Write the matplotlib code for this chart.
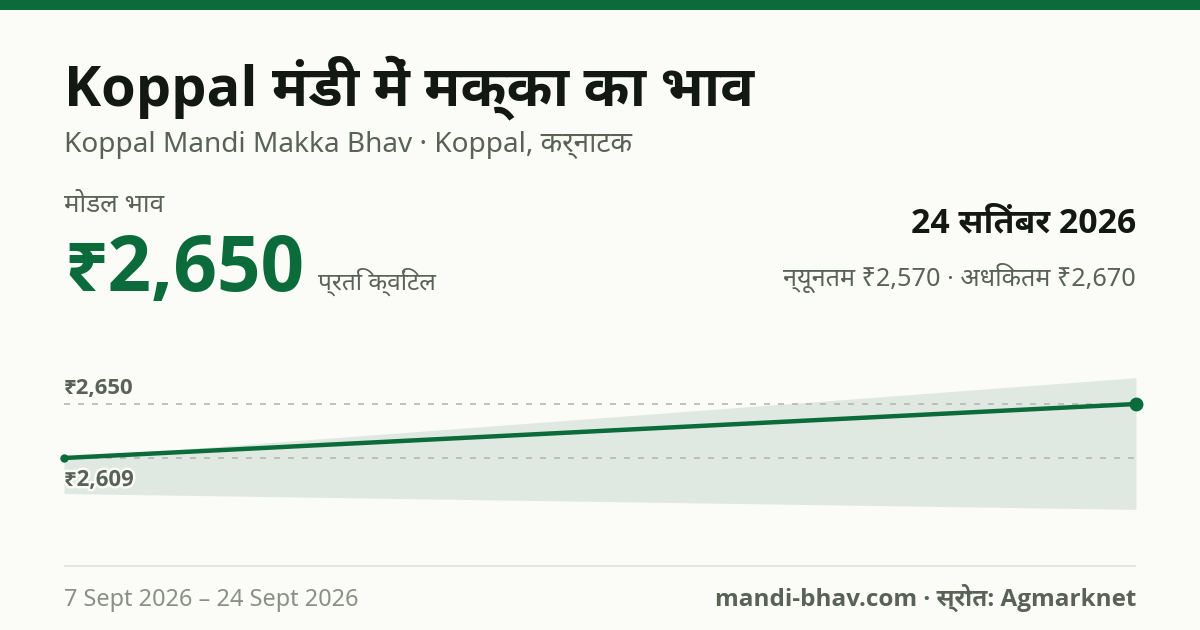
import matplotlib
matplotlib.use('Agg')
import matplotlib.pyplot as plt
import matplotlib.patheffects as pe
import pandas as pd
from matplotlib.patches import Rectangle

dates = pd.to_datetime(['2026-09-07', '2026-09-24'])
modal = [2609, 2650]
low = [2582, 2570]
high = [2609, 2670]
ref_lines = [2650, 2609]

title = 'Koppal मंडी में मक्का का भाव'
subtitle = 'Koppal Mandi Makka Bhav · Koppal, कर्नाटक'
modal_label = 'मोडल भाव'
modal_price = '₹2,650'
unit = 'प्रति क्विंटल'
date_label = '24 सितंबर 2026'
range_label = 'न्यूनतम ₹2,570 · अधिकतम ₹2,670'
period = '7 Sept 2026 – 24 Sept 2026'
source = 'mandi-bhav.com · स्रोत: Agmarknet'
ref_labels = ['₹2,650', '₹2,609']

W, H = 1200, 630
BG = '#FBFCF8'
GREEN = '#0B6B3A'
INK = '#141813'
MUTED = '#5A6157'
FAINT = '#8A8F87'
FAM = ['Noto Sans', 'Noto Sans Devanagari UI', 'DejaVu Sans']
FAM_BOLD = ['Open Sans', 'Noto Sans Devanagari UI', 'Noto Sans', 'DejaVu Sans']

fig = plt.figure(figsize=(W / 100, H / 100), dpi=100, facecolor=BG)

def px(size):
    return size * 0.72

def put(x, y, s, size, color, weight='normal', ha='left', **kw):
    return fig.text(x / W, 1 - y / H, s, fontsize=px(size), color=color, weight=weight,
                    ha=ha, va='baseline', family=FAM_BOLD if weight == 'bold' else FAM, **kw)

fig.add_artist(Rectangle((0, 1 - 10 / H), 1, 10 / H, transform=fig.transFigure, color=GREEN, lw=0))
fig.add_artist(Rectangle((64 / W, 1 - 567 / H), 1072 / W, 2 / H, transform=fig.transFigure, color='#E3E5E0', lw=0))

put(64, 105, title, 56, INK, 'bold')
put(64, 152, subtitle, 28, MUTED)
put(64, 212, modal_label, 26, MUTED)
put(64, 291, modal_price, 76.5, GREEN, 'bold')
put(318, 290, unit, 24.5, MUTED)
put(1136, 232, date_label, 33.8, INK, 'bold', ha='right')
put(1136, 286, range_label, 25.2, MUTED, ha='right')
put(64, 606, period, 23.5, FAINT)
put(1136, 606, source, 24.2, MUTED, 'bold', ha='right')

top, bottom = 360, 530
scale = 54 / 41
ax = fig.add_axes([64 / W, 1 - bottom / H, 1072 / W, (bottom - top) / H])
ax.set_xlim(dates[0], dates[-1])
ax.set_ylim(2650 - (bottom - 404) / scale, 2650 - (top - 404) / scale)
ax.axis('off')
ax.patch.set_alpha(0)

ax.fill_between(dates, low, high, color='#DFE9E2', lw=0, zorder=1)
for v in ref_lines:
    ax.plot(dates, [v, v], color='#B5B8B0', lw=1.2, dashes=(3.6, 4.8), zorder=2)
ax.plot(dates, modal, color=GREEN, lw=3.2, solid_capstyle='round', zorder=3)
ax.plot(dates[:1], modal[:1], 'o', color=GREEN, ms=6, mew=0, clip_on=False, zorder=4)
ax.plot(dates[-1:], modal[-1:], 'o', color=GREEN, ms=10, mew=0, clip_on=False, zorder=4)

put(64, 394, ref_labels[0], 22.2, MUTED, 'bold')
t = put(64, 486, ref_labels[1], 22.2, MUTED, 'bold')
t.set_path_effects([pe.withStroke(linewidth=3.5, foreground=BG)])

fig.savefig('out.png', dpi=100, facecolor=BG)
